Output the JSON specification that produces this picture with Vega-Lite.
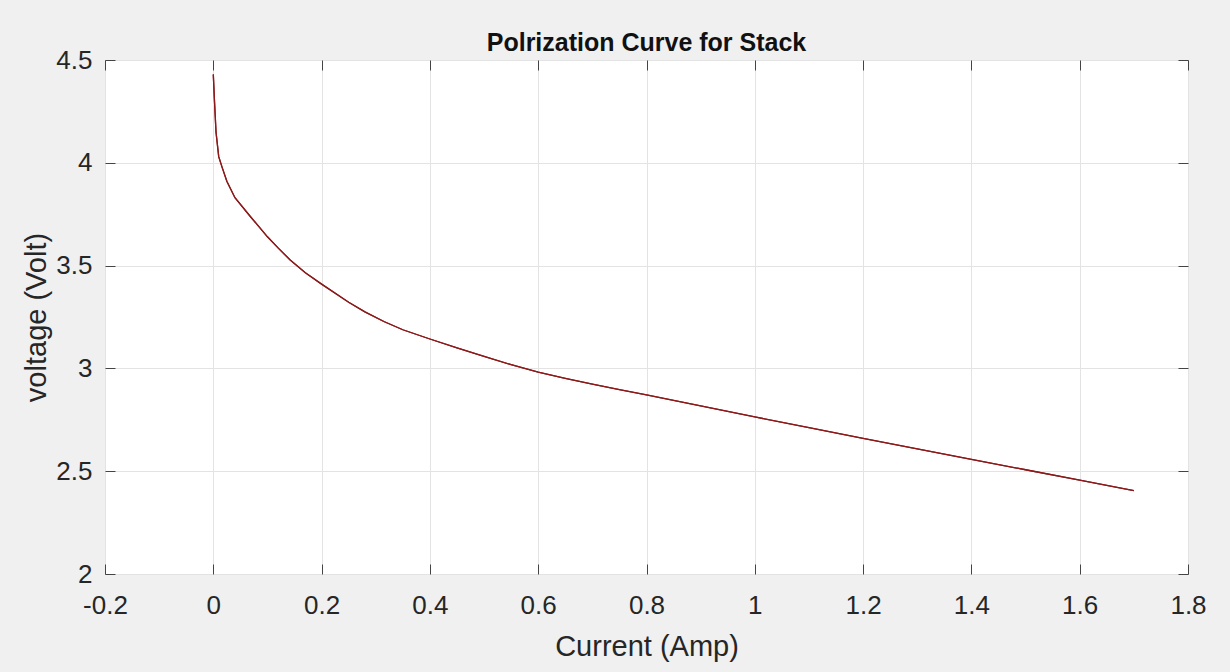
{
  "$schema": "https://vega.github.io/schema/vega-lite/v6.json",
  "width": 1083,
  "height": 514,
  "autosize": {"type": "none"},
  "padding": {"left": 105, "top": 60, "right": 42, "bottom": 98},
  "background": "#f0f0f0",
  "config": {
    "view": {"fill": "white", "stroke": "#6e6e6e", "strokeWidth": 1},
    "font": "Liberation Sans"
  },
  "title": {
    "text": "Polrization Curve for Stack",
    "fontSize": 25,
    "fontWeight": "bold",
    "color": "#111111",
    "font": "Liberation Sans",
    "anchor": "middle",
    "offset": -9
  },
  "data": {
    "values": [
      {"current": 0.0, "voltage": 4.43},
      {"current": 0.002, "voltage": 4.31},
      {"current": 0.005, "voltage": 4.15},
      {"current": 0.01, "voltage": 4.03},
      {"current": 0.016, "voltage": 3.98},
      {"current": 0.025, "voltage": 3.91},
      {"current": 0.04, "voltage": 3.83},
      {"current": 0.068, "voltage": 3.74},
      {"current": 0.1, "voltage": 3.64},
      {"current": 0.12, "voltage": 3.585},
      {"current": 0.142, "voltage": 3.527},
      {"current": 0.17, "voltage": 3.465},
      {"current": 0.2, "voltage": 3.41},
      {"current": 0.25, "voltage": 3.322},
      {"current": 0.28, "voltage": 3.275},
      {"current": 0.315, "voltage": 3.228},
      {"current": 0.35, "voltage": 3.188},
      {"current": 0.4, "voltage": 3.143},
      {"current": 0.45, "voltage": 3.1},
      {"current": 0.5, "voltage": 3.058},
      {"current": 0.55, "voltage": 3.018},
      {"current": 0.6, "voltage": 2.982},
      {"current": 0.65, "voltage": 2.951},
      {"current": 0.7, "voltage": 2.923},
      {"current": 0.75, "voltage": 2.897},
      {"current": 0.8, "voltage": 2.871},
      {"current": 0.9, "voltage": 2.818},
      {"current": 1.0, "voltage": 2.764},
      {"current": 1.1, "voltage": 2.712},
      {"current": 1.2, "voltage": 2.66},
      {"current": 1.3, "voltage": 2.609},
      {"current": 1.4, "voltage": 2.558},
      {"current": 1.5, "voltage": 2.507},
      {"current": 1.6, "voltage": 2.457},
      {"current": 1.7, "voltage": 2.405}
    ]
  },
  "layer": [
    {
      "mark": {"type": "line", "color": "#8b1a1a", "strokeWidth": 1.3},
      "encoding": {
        "x": {
          "field": "current", "type": "quantitative",
          "scale": {"domain": [-0.2, 1.8], "nice": false, "zero": false},
          "axis": {
            "title": "Current (Amp)", "titleFontSize": 29, "titleFontWeight": "normal", "titleColor": "#262626", "titlePadding": 14,
            "values": [-0.2, 0, 0.2, 0.4, 0.6, 0.8, 1, 1.2, 1.4, 1.6, 1.8],
            "labelExpr": "'' + datum.value",
            "labelFontSize": 26, "labelColor": "#262626", "labelPadding": 28, "labelFlush": false, "labelOverlap": false,
            "tickSize": -10, "tickColor": "#444444",
            "domain": false,
            "grid": true, "gridColor": "#e3e3e3", "gridWidth": 1
          }
        },
        "y": {
          "field": "voltage", "type": "quantitative",
          "scale": {"domain": [2, 4.5], "nice": false, "zero": false},
          "axis": {
            "title": "voltage (Volt)", "titleFontSize": 29, "titleFontWeight": "normal", "titleColor": "#262626", "titlePadding": 4,
            "values": [2, 2.5, 3, 3.5, 4, 4.5],
            "labelExpr": "'' + datum.value",
            "labelFontSize": 26, "labelColor": "#262626", "labelPadding": 23, "labelFlush": false, "labelOverlap": false,
            "tickSize": -10, "tickColor": "#444444",
            "domain": false,
            "grid": true, "gridColor": "#e3e3e3", "gridWidth": 1
          }
        }
      }
    },
    {
      "mark": {"type": "line", "color": "#8b1a1a", "strokeWidth": 1.3},
      "encoding": {
        "x": {
          "field": "current", "type": "quantitative",
          "scale": {"domain": [-0.2, 1.8], "nice": false, "zero": false},
          "axis": {
            "orient": "top", "title": null, "labels": false,
            "values": [-0.2, 0, 0.2, 0.4, 0.6, 0.8, 1, 1.2, 1.4, 1.6, 1.8],
            "tickSize": -10, "tickColor": "#444444", "domain": false, "grid": false
          }
        },
        "y": {
          "field": "voltage", "type": "quantitative",
          "scale": {"domain": [2, 4.5], "nice": false, "zero": false},
          "axis": {
            "orient": "right", "title": null, "labels": false,
            "values": [2, 2.5, 3, 3.5, 4, 4.5],
            "tickSize": -10, "tickColor": "#444444", "domain": false, "grid": false
          }
        }
      }
    }
  ],
  "resolve": {"scale": {"x": "independent", "y": "independent"}}
}
